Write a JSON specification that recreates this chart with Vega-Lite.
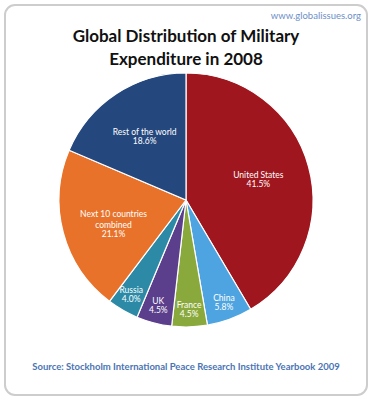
{
  "$schema": "https://vega.github.io/schema/vega-lite/v6.json",
  "padding": {"left": 4, "top": 4, "right": 0, "bottom": 0},
  "background": "white",
  "title": {"text": "www.globalissues.org", "orient": "top", "anchor": "end", "offset": -16, "dx": -7, "fontSize": 9.5, "font": "Lato", "fontWeight": "normal", "color": "#6d8fc7"},
  "vconcat": [
    {
      "title": {"text": "Source: Stockholm International Peace Research Institute Yearbook 2009", "orient": "bottom", "anchor": "middle", "offset": -34, "fontSize": 9.5, "font": "Lato", "fontWeight": "bold", "color": "#4a74b4"},
      "vconcat": [
        {
          "width": 362,
          "height": 390,
          "title": {"text": ["Global Distribution of Military", "Expenditure in 2008"], "orient": "top", "anchor": "middle", "offset": -65, "fontSize": 17, "font": "Lato", "fontWeight": "bold", "color": "#111111", "lineHeight": 23},
          "data": {
            "values": [
              {"rank": 1, "name": "United States", "share": 0.415},
              {"rank": 2, "name": "China", "share": 0.058},
              {"rank": 3, "name": "France", "share": 0.045},
              {"rank": 4, "name": "UK", "share": 0.045},
              {"rank": 5, "name": "Russia", "share": 0.040},
              {"rank": 6, "name": "Next 10 countries\ncombined", "share": 0.211},
              {"rank": 7, "name": "Rest of the world", "share": 0.186}
            ]
          },
          "layer": [
            {
              "data": {"values": [{}]},
              "mark": {"type": "rect", "fill": "white", "stroke": "#cdcdcd", "strokeWidth": 2, "cornerRadius": 10},
              "encoding": {}
            },
            {
              "mark": {"type": "arc", "outerRadius": 127, "stroke": "white", "strokeWidth": 1.2},
              "encoding": {
                "theta": {"field": "share", "type": "quantitative", "stack": true},
                "order": {"field": "rank", "type": "quantitative"},
                "color": {
                  "field": "name", "type": "nominal", "legend": null,
                  "scale": {
                    "domain": ["United States", "China", "France", "UK", "Russia", "Next 10 countries\ncombined", "Rest of the world"],
                    "range": ["#a0161e", "#4ea4e0", "#8aa93c", "#5b3f8c", "#2c8aa6", "#e8722a", "#24477e"]
                  }
                }
              }
            },
            {
              "mark": {"type": "text", "radius": 75, "baseline": "bottom", "color": "white", "font": "Lato", "fontSize": 8.5, "lineBreak": "\n", "lineHeight": 11},
              "encoding": {
                "theta": {"field": "share", "type": "quantitative", "stack": true},
                "order": {"field": "rank", "type": "quantitative"},
                "text": {"condition": {"test": "datum.share >= 0.1", "field": "name"}, "value": ""}
              }
            },
            {
              "mark": {"type": "text", "radius": 75, "baseline": "top", "color": "white", "font": "Lato", "fontSize": 8.5},
              "encoding": {
                "theta": {"field": "share", "type": "quantitative", "stack": true},
                "order": {"field": "rank", "type": "quantitative"},
                "text": {"condition": {"test": "datum.share >= 0.1 && indexof(datum.name, '\\n') < 0", "field": "share", "format": ".1%"}, "value": ""}
              }
            },
            {
              "mark": {"type": "text", "radius": 75, "baseline": "top", "dy": 11, "color": "white", "font": "Lato", "fontSize": 8.5},
              "encoding": {
                "theta": {"field": "share", "type": "quantitative", "stack": true},
                "order": {"field": "rank", "type": "quantitative"},
                "text": {"condition": {"test": "datum.share >= 0.1 && indexof(datum.name, '\\n') >= 0", "field": "share", "format": ".1%"}, "value": ""}
              }
            },
            {
              "mark": {"type": "text", "radius": 110, "baseline": "bottom", "color": "white", "font": "Lato", "fontSize": 8.5},
              "encoding": {
                "theta": {"field": "share", "type": "quantitative", "stack": true},
                "order": {"field": "rank", "type": "quantitative"},
                "text": {"condition": {"test": "datum.share < 0.1", "field": "name"}, "value": ""}
              }
            },
            {
              "mark": {"type": "text", "radius": 110, "baseline": "top", "color": "white", "font": "Lato", "fontSize": 8.5},
              "encoding": {
                "theta": {"field": "share", "type": "quantitative", "stack": true},
                "order": {"field": "rank", "type": "quantitative"},
                "text": {"condition": {"test": "datum.share < 0.1", "field": "share", "format": ".1%"}, "value": ""}
              }
            }
          ]
        }
      ]
    }
  ],
  "config": {
    "view": {"stroke": null},
    "concat": {"spacing": 0}
  }
}
